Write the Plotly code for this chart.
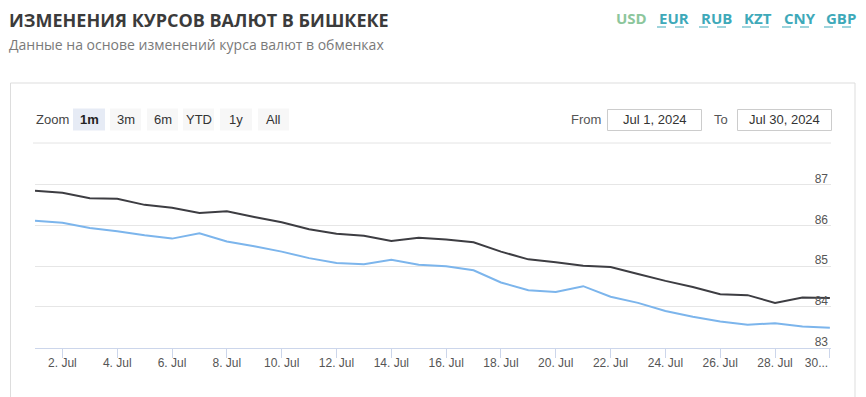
import plotly.graph_objects as go

dates = [f"2024-07-{d:02d}" for d in range(1, 31)]
sell = [86.86, 86.81, 86.67, 86.66, 86.51, 86.44, 86.31, 86.35, 86.21, 86.08,
        85.91, 85.80, 85.75, 85.62, 85.70, 85.66, 85.59, 85.36, 85.17, 85.10,
        85.01, 84.98, 84.81, 84.64, 84.49, 84.31, 84.29, 84.10, 84.23, 84.22]
buy = [86.12, 86.07, 85.94, 85.86, 85.76, 85.68, 85.81, 85.61, 85.49, 85.36,
       85.20, 85.08, 85.05, 85.16, 85.04, 85.00, 84.90, 84.60, 84.41, 84.37,
       84.51, 84.25, 84.10, 83.90, 83.76, 83.64, 83.56, 83.60, 83.52, 83.49]
x_tick_vals = [f"2024-07-{d:02d}" for d in range(2, 31, 2)]
x_tick_text = [f"{d}. Jul" for d in range(2, 29, 2)] + ["30..." + "\u00a0" * 8]
y_tick_vals = [83, 84, 85, 86, 87]
currencies = ["USD", "EUR", "RUB", "KZT", "CNY", "GBP"]
zoom_buttons = ["1m", "3m", "6m", "YTD", "1y", "All"]

W, H = 866, 397
L, R, T, B = 35, 35, 153, 49
PW, PH = W - L - R, H - T - B


def px(x):
    return (x - L) / PW


def py(y):
    return (H - B - y) / PH


fig = go.Figure()
fig.add_trace(go.Scatter(x=dates, y=sell, mode="lines", name="Продажа",
                         line=dict(color="#3d3d42", width=2)))
fig.add_trace(go.Scatter(x=dates, y=buy, mode="lines", name="Покупка",
                         line=dict(color="#7cb5ec", width=2)))

shapes = []
annotations = []

# container box
shapes.append(dict(type="rect", xref="paper", yref="paper",
                   x0=px(10.5), x1=px(855), y0=py(83), y1=py(410),
                   line=dict(color="#dddddd", width=1), fillcolor="rgba(0,0,0,0)", layer="below"))
# line under the toolbar
shapes.append(dict(type="line", xref="paper", yref="paper",
                   x0=px(33), x1=px(831), y0=py(143), y1=py(143),
                   line=dict(color="#e4e4e4", width=1)))

# title
annotations.append(dict(text="<b>ИЗМЕНЕНИЯ КУРСОВ ВАЛЮТ В БИШКЕКЕ</b>", xref="paper", yref="paper",
                        x=px(7), y=py(20), xanchor="left", yanchor="middle", showarrow=False,
                        font=dict(family="Open Sans", size=18, color="#3b3b3b")))
annotations.append(dict(text="Данные на основе изменений курса валют в обменках", xref="paper", yref="paper",
                        x=px(7), y=py(44), xanchor="left", yanchor="middle", showarrow=False,
                        font=dict(family="Open Sans", size=14, color="#7a7a7a")))

# currency tabs
cur_x = [614, 657, 699, 742, 782, 824]
cur_w = [32, 30, 31, 29, 32, 32]
for i, c in enumerate(currencies):
    col = "#8cc69c" if i == 0 else "#3ea9b9"
    annotations.append(dict(text=f"<b>{c}</b>", xref="paper", yref="paper",
                            x=px(cur_x[i]), y=py(18), xanchor="left", yanchor="middle", showarrow=False,
                            font=dict(family="Open Sans", size=15, color=col)))
    if i > 0:
        shapes.append(dict(type="line", xref="paper", yref="paper",
                           x0=px(cur_x[i]), x1=px(cur_x[i] + cur_w[i]), y0=py(27), y1=py(27),
                           line=dict(color=col, width=1, dash="dash")))

# zoom buttons
annotations.append(dict(text="Zoom", xref="paper", yref="paper", x=px(34), y=py(119.5),
                        xanchor="left", yanchor="middle", showarrow=False,
                        font=dict(family="Liberation Sans", size=13, color="#444444")))
btn_x = [(73, 105), (110, 141), (147, 178), (183, 214), (220, 252), (258, 289)]
for i, b in enumerate(zoom_buttons):
    x0, x1 = btn_x[i]
    sel = i == 0
    shapes.append(dict(type="rect", xref="paper", yref="paper",
                       x0=px(x0), x1=px(x1), y0=py(108.5), y1=py(130.5),
                       line=dict(width=0), fillcolor="#e6ebf5" if sel else "#f7f7f7"))
    annotations.append(dict(text=f"<b>{b}</b>" if sel else b, xref="paper", yref="paper",
                            x=px((x0 + x1) / 2), y=py(119.5), xanchor="center", yanchor="middle",
                            showarrow=False,
                            font=dict(family="Liberation Sans", size=13, color="#222222" if sel else "#333333")))

# From / To
annotations.append(dict(text="From", xref="paper", yref="paper", x=px(569), y=py(119.5),
                        xanchor="left", yanchor="middle", showarrow=False,
                        font=dict(family="Liberation Sans", size=13, color="#555555")))
annotations.append(dict(text="To", xref="paper", yref="paper", x=px(712), y=py(119.5),
                        xanchor="left", yanchor="middle", showarrow=False,
                        font=dict(family="Liberation Sans", size=13, color="#555555")))
for (x0, x1), t in [((607.5, 701.5), "Jul 1, 2024"), ((737.5, 831.5), "Jul 30, 2024")]:
    shapes.append(dict(type="rect", xref="paper", yref="paper",
                       x0=px(x0), x1=px(x1), y0=py(109.5), y1=py(130.5),
                       line=dict(color="#cccccc", width=1), fillcolor="white"))
    annotations.append(dict(text=t, xref="paper", yref="paper", x=px((x0 + x1) / 2), y=py(120),
                            xanchor="center", yanchor="middle", showarrow=False,
                            font=dict(family="Liberation Sans", size=13, color="#333333")))

fig.update_layout(
    width=W, height=H,
    margin=dict(l=L, r=R, t=T, b=B, pad=0),
    paper_bgcolor="white", plot_bgcolor="white",
    showlegend=False,
    shapes=shapes, annotations=annotations,
    xaxis=dict(type="date", range=["2024-07-01", "2024-07-30 01:00"],
               tickmode="array", tickvals=x_tick_vals, ticktext=x_tick_text,
               showgrid=False, showline=True, linecolor="#ccd6eb", linewidth=1,
               ticks="outside", ticklen=9, tickcolor="#ccd6eb", tickwidth=1,
               ticklabelstandoff=-5, ticklabeloverflow="allow",
               tickfont=dict(family="Liberation Sans", size=12, color="#555555"),
               zeroline=False, fixedrange=True),
    yaxis=dict(range=[83 - 0.01, 83 + PH / 40.75], tickvals=y_tick_vals, side="right",
               ticklabelposition="inside", ticklabelshift=-6, ticklabeloverflow="allow",
               showgrid=True, gridcolor="#e6e6e6", gridwidth=1,
               showline=False, zeroline=False, ticks="",
               tickfont=dict(family="Liberation Sans", size=12, color="#555555"),
               fixedrange=True),
)

fig.write_html("out.html", config={"displayModeBar": False},
               post_script="document.body.style.margin='0px';")
